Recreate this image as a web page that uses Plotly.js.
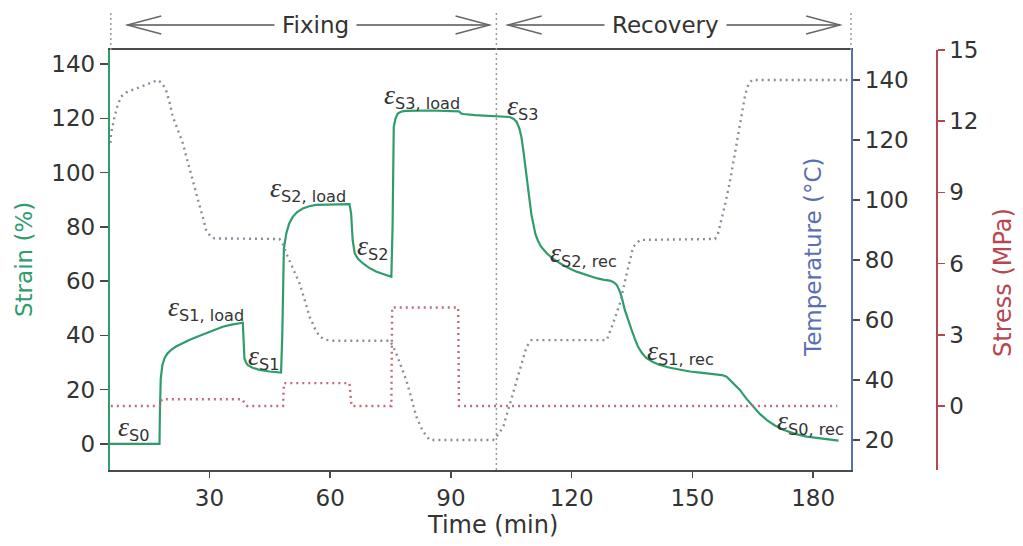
<!DOCTYPE html>
<html>
<head>
<meta charset="utf-8">
<script src="https://cdn.plot.ly/plotly-3.0.1.min.js"></script>
<style>
  html, body { margin: 0; padding: 0; background: #fff; }
  #chart { width: 1023px; height: 546px; }
</style>
</head>
<body>
<div id="chart"></div>
<script>
// ---- Strain response (%) over the programming / recovery cycle ----
const strainTime = [
  5.3, 17.6, 17.7, 17.9, 18.3, 18.9, 19.6, 20.6, 21.7, 23.3,
  25.0, 27.1, 29.2, 31.2, 33.3, 35.5, 38.3, 38.5, 38.7, 39.1,
  39.5, 40.7, 42.4, 45.0, 47.8, 48.1, 48.3, 48.5, 49.1, 49.8,
  50.7, 51.8, 53.2, 54.8, 56.5, 60.0, 64.8, 65.2, 65.6, 66.1,
  66.9, 68.1, 69.7, 71.5, 73.3, 75.2, 75.5, 75.6, 75.8, 76.2,
  76.8, 77.7, 78.9, 85.0, 91.4, 92.0, 92.5, 93.0, 96.0, 100.0,
  104.6, 105.6, 106.3, 107.0, 107.5, 108.1, 108.8, 109.4, 110.0, 110.5,
  111.0, 111.6, 112.4, 113.8, 115.4, 117.1, 119.1, 121.2, 123.7, 126.2,
  128.0, 129.5, 130.4, 131.2, 131.8, 132.4, 133.2, 134.0, 134.9, 135.7,
  136.5, 137.5, 138.6, 140.2, 141.9, 144.4, 146.9, 149.4, 151.9, 154.0,
  156.0, 157.3, 158.5, 160.1, 161.8, 163.4, 165.1, 166.8, 168.5, 170.5,
  172.6, 175.5, 178.4, 181.7, 185.0, 186.3
];
const strainPct = [
  0, 0, 12, 24, 29, 31.8, 33.4, 34.8, 35.9, 37.2,
  38.3, 39.6, 40.8, 42.0, 43.2, 44.0, 44.7, 38, 31.5, 30.0,
  29.1, 28.1, 27.3, 26.7, 26.3, 40, 60, 72, 77.6, 81.2,
  83.7, 85.5, 86.8, 87.6, 88.1, 88.3, 88.4, 85, 75, 70.3,
  68.2, 66.6, 64.9, 63.5, 62.5, 61.6, 80, 100, 116.9, 119.8,
  121.8, 122.5, 122.8, 122.9, 122.8, 122.6, 121.9, 121.6, 121.2, 120.9,
  120.5, 119.8, 118.8, 116.3, 113.2, 107, 99.7, 91.5, 84.5, 80.2,
  77.3, 75.0, 72.7, 70.3, 68.2, 66.6, 64.9, 63.5, 62.2, 61.1,
  60.5, 60.2, 59.6, 58.6, 56.8, 54.3, 49.4, 45.6, 42.0, 38.7,
  35.8, 33.4, 31.6, 30.2, 29.1, 28.1, 27.3, 26.7, 26.3, 26.0,
  25.8, 25.4, 24.8, 22.6, 19.9, 16.7, 13.7, 11.0, 8.8, 6.8,
  5.2, 3.7, 2.7, 2.1, 1.7, 1.2
];

// ---- Temperature programme (°C) ----
const tempTime = [
  5.4, 5.6, 6.4, 7.2, 8.0, 9.3, 10.9, 12.6, 14.3, 15.8,
  17.1, 18.2, 19.2, 20.1, 20.9, 22.2, 23.4, 24.6, 25.8, 26.7,
  27.5, 28.4, 29.2, 30.2, 31.2, 40.0, 47.4, 48.2, 49.1, 50.8,
  52.4, 53.7, 54.9, 56.2, 57.4, 59.0, 60.7, 74.8, 75.6, 76.4,
  77.6, 78.9, 80.2, 81.4, 83.0, 84.7, 100.5, 101.5, 103.0, 104.2,
  105.5, 107.1, 108.8, 110.0, 128.7, 130.3, 132.0, 133.7, 135.3, 137.0,
  155.6, 156.3, 156.9, 158.2, 159.4, 160.6, 161.8, 163.1, 163.9, 164.8,
  188.5
];
const tempC = [
  119, 122.5, 127.5, 131.5, 134.4, 135.8, 136.7, 137.5, 138.3, 139.2,
  140, 139, 136.7, 132.5, 127.8, 123.2, 118.9, 112.8, 106.7, 102,
  97.8, 93.5, 90, 88, 87.2, 87.1, 87, 85.5, 82.2, 77,
  72.2, 66.5, 61.1, 57.2, 54.4, 53.4, 53.1, 53.1, 51.3, 48.9,
  44.4, 40, 33.8, 27.8, 23, 20, 20, 21.5, 24.4, 29.8,
  35.6, 43.3, 51.1, 53.3, 53.3, 58.9, 65.6, 75.6, 84.4, 86.7,
  87, 88.5, 91.7, 99, 106.7, 116, 125, 135, 138.5, 140,
  140
];

// ---- Applied stress (MPa) ----
const stressTime = [5.5, 17.7, 18.2, 38.2, 38.7, 39.3, 48.3, 48.5, 64.8, 65.3, 75.2, 75.4, 91.8, 92.0, 186.0];
const stressMPa  = [0, 0, 0.28, 0.28, 0.12, 0, 0, 0.96, 0.96, 0, 0, 4.15, 4.15, 0, 0];

// ---- Axis ticks ----
const timeTicks   = [30, 60, 90, 120, 150, 180];
const strainTicks = [0, 20, 40, 60, 80, 100, 120, 140];
const tempTicks   = [20, 40, 60, 80, 100, 120, 140];
const stressTicks = [0, 3, 6, 9, 12, 15];

// ---- Stages ----
const phaseNames = ['Fixing', 'Recovery'];
const phaseBounds = [5.3, 101.3, 189.4];

// ---- Strain state labels ----
const stateSubs = ['S0', 'S1, load', 'S1', 'S2, load', 'S2', 'S3, load', 'S3', 'S2, rec', 'S1, rec', 'S0, rec'];

// --------------------------------------------------------------
const GREEN = '#2f9c6c', BLUE = '#5b6fb3', RED = '#b5474f';
const TEMP_DOT = '#8a8c9e', STRESS_DOT = '#c66a78';
const FRAME = '#4a4a4a', TXT = '#333333';
const FONT = 'DejaVu Sans';

const xRange = [phaseBounds[0], phaseBounds[2]];
const xDomEnd = 0.8971;
const toPaperX = t => xDomEnd * (t - xRange[0]) / (xRange[1] - xRange[0]);
const PW = 826, PH = 420;           // plot-paper size in px

const traces = [
  { x: tempTime, y: tempC, yaxis: 'y2', mode: 'lines', hoverinfo: 'skip',
    line: { color: TEMP_DOT, width: 2.4, dash: '2px,4px' } },
  { x: stressTime, y: stressMPa, yaxis: 'y3', mode: 'lines', hoverinfo: 'skip',
    line: { color: STRESS_DOT, width: 2.4, dash: '2px,4px' } },
  { x: strainTime, y: strainPct, yaxis: 'y', mode: 'lines', hoverinfo: 'skip',
    line: { color: GREEN, width: 2.2 } }
];

// label placement (left edge time, vertical centre in strain units)
const statePlace = [
  [6.9, 5.9], [19.3, 50.1], [39.2, 32.1], [44.5, 94.0], [66.1, 72.6],
  [72.8, 128.2], [103.4, 124.2], [114.1, 70.0], [138.2, 33.9], [170.5, 8.1]
];

const annotations = stateSubs.map((s, i) => ({
  xref: 'x', yref: 'y', x: statePlace[i][0], y: statePlace[i][1],
  xanchor: 'left', yanchor: 'middle', showarrow: false,
  font: { family: FONT, size: 23, color: TXT },
  text: `<span style="font-family:'Liberation Serif';font-style:italic;font-size:28px">ε</span><sub>${s}</sub>`
}));

// axis titles
const title = (txt, px, py, color, size, angle) => ({
  xref: 'paper', yref: 'paper', x: (px - 110) / PW, y: (470 - py) / PH,
  xanchor: 'center', yanchor: 'middle', showarrow: false, textangle: angle,
  text: txt, font: { family: FONT, size: size, color: color }
});
annotations.push(
  title('Time (min)', 492, 525, TXT, 24, 0),
  title('Strain (%)', 24, 260, GREEN, 23, -90),
  title('Temperature (°C)', 813, 257, BLUE, 23, -90),
  title('Stress (MPa)', 1003, 283, RED, 24, -90)
);

// stage headers with double arrows
const ARROW_Y = (470 - 25) / PH, HEAD_H = 9 / PH, HEAD_L = 34 / PW;
const arrowEnds = [[9.6, 99.6], [104.1, 186.7]];
const phaseLabelAt = [56.4, 143.2];
const shapes = [];
phaseNames.forEach((name, i) => {
  const a = toPaperX(arrowEnds[i][0]), b = toPaperX(arrowEnds[i][1]);
  shapes.push({ type: 'line', xref: 'paper', yref: 'paper', x0: a, x1: b, y0: ARROW_Y, y1: ARROW_Y,
    line: { color: '#555', width: 1.6 } });
  shapes.push({ type: 'path', xref: 'paper', yref: 'paper',
    path: `M ${a + HEAD_L} ${ARROW_Y + HEAD_H} L ${a} ${ARROW_Y} L ${a + HEAD_L} ${ARROW_Y - HEAD_H}`,
    line: { color: '#666', width: 1.4 } });
  shapes.push({ type: 'path', xref: 'paper', yref: 'paper',
    path: `M ${b - HEAD_L} ${ARROW_Y + HEAD_H} L ${b} ${ARROW_Y} L ${b - HEAD_L} ${ARROW_Y - HEAD_H}`,
    line: { color: '#666', width: 1.4 } });
  annotations.push({ xref: 'paper', yref: 'paper', x: toPaperX(phaseLabelAt[i]), y: ARROW_Y,
    xanchor: 'center', yanchor: 'middle',
    showarrow: false, text: name, bgcolor: '#ffffff', borderpad: 7,
    font: { family: FONT, size: 23, color: TXT } });
});

// dotted stage separators
const TOP_Y = (470 - 13) / PH;
shapes.push(
  { type: 'line', xref: 'paper', yref: 'paper', x0: toPaperX(phaseBounds[1]), x1: toPaperX(phaseBounds[1]),
    y0: 0, y1: TOP_Y, line: { color: '#9a9a9a', width: 1.5, dash: '2px,3px' } },
  { type: 'line', xref: 'paper', yref: 'paper', x0: 0.001, x1: 0.001, y0: 1, y1: TOP_Y,
    line: { color: '#9a9a9a', width: 1.5, dash: '2px,3px' } },
  { type: 'line', xref: 'paper', yref: 'paper', x0: xDomEnd, x1: xDomEnd, y0: 1, y1: TOP_Y,
    line: { color: '#9a9a9a', width: 1.5, dash: '2px,3px' } }
);

const tickFont = { family: FONT, size: 23, color: TXT };
const layout = {
  width: 1023, height: 546,
  margin: { l: 110, r: 87, t: 50, b: 76 },
  paper_bgcolor: '#ffffff', plot_bgcolor: '#ffffff',
  font: { family: FONT, size: 23, color: TXT },
  showlegend: false,
  xaxis: {
    domain: [0, xDomEnd], range: xRange, tickmode: 'array', tickvals: timeTicks,
    ticks: 'outside', ticklen: 6, tickwidth: 1.5, tickcolor: FRAME, tickfont: tickFont,
    showline: true, linecolor: FRAME, linewidth: 2.2, mirror: true,
    showgrid: false, zeroline: false, fixedrange: true
  },
  yaxis: {
    range: [-9.6, 145.2], tickmode: 'array', tickvals: strainTicks,
    ticks: 'outside', ticklen: 8, tickwidth: 1.5, tickcolor: FRAME, tickfont: tickFont,
    showline: true, linecolor: GREEN, linewidth: 2.2,
    showgrid: false, zeroline: false, fixedrange: true
  },
  yaxis2: {
    overlaying: 'y', side: 'right', anchor: 'x',
    range: [10, 150], tickmode: 'array', tickvals: tempTicks,
    ticks: 'outside', ticklen: 7, tickwidth: 1.5, tickcolor: FRAME, tickfont: tickFont,
    showline: true, linecolor: BLUE, linewidth: 2.2,
    showgrid: false, zeroline: false, fixedrange: true
  },
  yaxis3: {
    overlaying: 'y', side: 'right', anchor: 'free', position: 1,
    range: [-2.7, 15], tickmode: 'array', tickvals: stressTicks,
    ticks: 'outside', ticklen: 7, tickwidth: 1.5, tickcolor: RED, tickfont: tickFont,
    showline: true, linecolor: RED, linewidth: 1.6,
    showgrid: false, zeroline: false, fixedrange: true
  },
  shapes: shapes,
  annotations: annotations
};

Plotly.newPlot('chart', traces, layout, { displayModeBar: false, staticPlot: true });
</script>
</body>
</html>
